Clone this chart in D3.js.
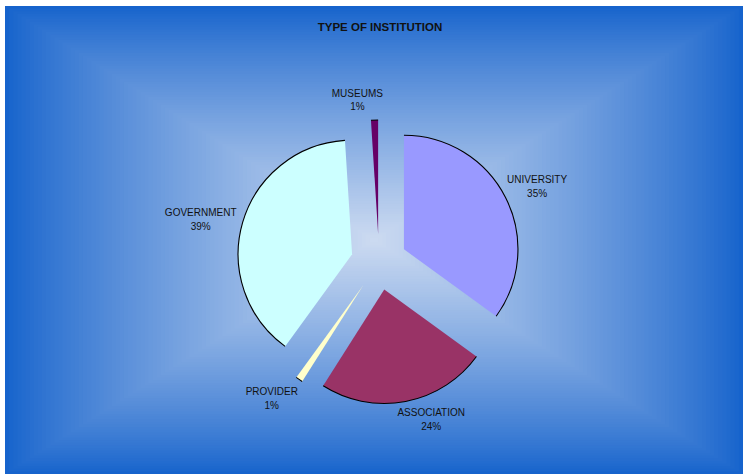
<!DOCTYPE html>
<html>
<head>
<meta charset="utf-8">
<script src="https://cdn.jsdelivr.net/npm/d3@7"></script>
<style>
  body { margin: 0; background: #fff; }
  text { font-family: "Liberation Sans", Arial, sans-serif; fill: #111; }
</style>
</head>
<body>
<div id="chart"></div>
<script>
// Data
var categories = ["UNIVERSITY", "ASSOCIATION", "PROVIDER", "GOVERNMENT", "MUSEUMS"];
var values = [35, 24, 1, 39, 1];
var colors = ["#9999ff", "#993366", "#ffffcc", "#ccffff", "#660066"];

var width = 743, height = 474;
var frame = {x: 5, y: 6, w: 738, h: 468};
var cx = 379, cy = 262;
var radius = 114;
var explode = 28;

var svg = d3.select("#chart")
  .append("svg")
  .attr("width", width)
  .attr("height", height);

// Background: rectangular gradient from centre
var bgSteps = 90;
var bgColor = d3.interpolateRgb("#1663cc", "#cddbf1");
var bg = svg.append("g").attr("class", "bg");
d3.range(bgSteps).forEach(function(i) {
  var t = i / bgSteps;
  bg.append("rect")
    .attr("x", frame.x + t * frame.w / 2)
    .attr("y", frame.y + t * frame.h / 2)
    .attr("width", frame.w * (1 - t))
    .attr("height", frame.h * (1 - t))
    .attr("fill", bgColor(Math.pow(t, 0.85)));
});

// Title
svg.append("text")
  .attr("x", 380)
  .attr("y", 31)
  .attr("text-anchor", "middle")
  .style("font-size", "11.5px")
  .style("font-weight", "bold")
  .text("TYPE OF INSTITUTION");

var pie = d3.pie().sort(null).value(function(d) { return d; });
var arcs = pie(values);

var arc = d3.arc().innerRadius(0).outerRadius(radius);

function offset(d, dist) {
  var a = (d.startAngle + d.endAngle) / 2;
  return [Math.sin(a) * dist, -Math.cos(a) * dist];
}

var pieG = svg.append("g")
  .attr("transform", `translate(${cx},${cy})`);

var slices = pieG.selectAll(".slice")
  .data(arcs)
  .enter()
  .append("g")
  .attr("class", "slice")
  .attr("transform", function(d) {
    var o = offset(d, explode);
    return `translate(${o[0]},${o[1]})`;
  });

slices.append("path")
  .attr("d", arc)
  .style("fill", function(d, i) { return colors[i]; });

// outline only along the outer arc
slices.append("path")
  .attr("d", function(d) {
    var p = d3.path();
    p.arc(0, 0, radius, d.startAngle - Math.PI / 2, d.endAngle - Math.PI / 2);
    return p.toString();
  })
  .style("fill", "none")
  .style("stroke", "#000")
  .style("stroke-width", 1.1);

// Labels
var labelShift = {
  "UNIVERSITY": [-6, 0],
  "ASSOCIATION": [17, -6],
  "PROVIDER": [-6, -1],
  "GOVERNMENT": [4, 4],
  "MUSEUMS": [-16, 4]
};
var lineH = 13.5;

var labels = pieG.selectAll(".label")
  .data(arcs)
  .enter()
  .append("text")
  .attr("class", "label")
  .attr("text-anchor", "middle")
  .style("font-size", "10px");

labels.append("tspan")
  .attr("x", 0)
  .attr("dy", 0)
  .text(function(d, i) { return categories[i]; });

labels.append("tspan")
  .attr("x", 0)
  .attr("dy", lineH)
  .text(function(d, i) { return Math.round(values[i] / d3.sum(values) * 100) + "%"; });

labels.attr("transform", function(d, i) {
  var bb = this.getBBox();
  var a = (d.startAngle + d.endAngle) / 2;
  var ux = Math.sin(a), uy = -Math.cos(a);
  var base = radius + explode + 12;
  var s = labelShift[categories[i]];
  var x = ux * base + ux * bb.width / 2 + s[0];
  var y = uy * base + uy * bb.height / 2 + s[1];
  // centre the two-line block vertically at y
  var ty = y - (bb.y + bb.height / 2);
  return `translate(${x},${ty})`;
});
</script>
</body>
</html>
